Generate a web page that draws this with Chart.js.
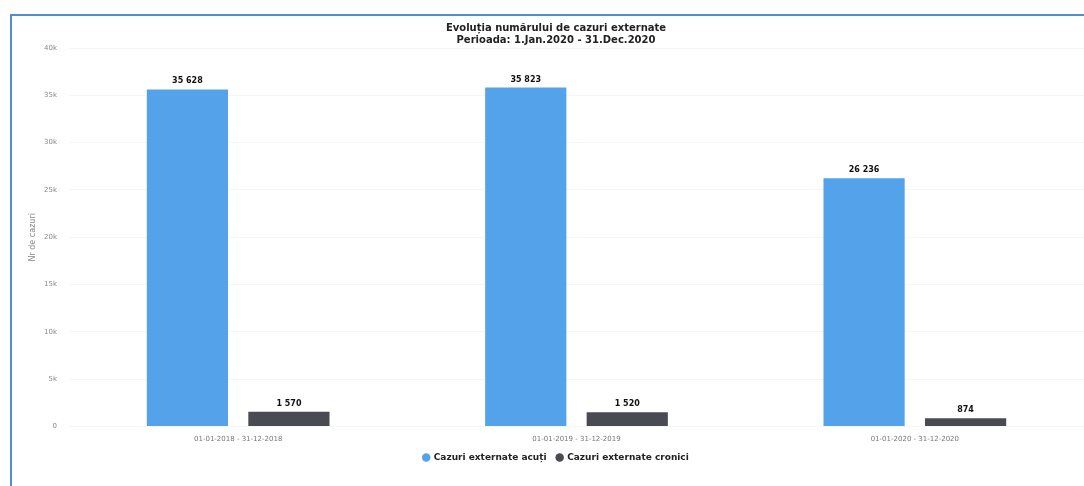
<!DOCTYPE html>
<html>
<head>
<meta charset="utf-8">
<script src="https://cdn.jsdelivr.net/npm/chart.js@4"></script>
<style>
  html,body{margin:0;padding:0;background:#fff;}
  #wrap{position:relative;width:1084px;height:486px;}
  #frame{position:absolute;left:10px;top:14px;right:0;bottom:0;border-top:2px solid #4f8fd0;border-left:2px solid #4f8fd0;pointer-events:none;}
  canvas{position:absolute;left:0;top:0;}
</style>
</head>
<body>
<div id="wrap">
<canvas id="c" width="1084" height="486"></canvas>
<div id="frame"></div>
</div>
<script>
const categories = ["01-01-2018 - 31-12-2018", "01-01-2019 - 31-12-2019", "01-01-2020 - 31-12-2020"];
const acuti = [35628, 35823, 26236];
const cronici = [1570, 1520, 874];
const seriesNames = ["Cazuri externate acuți", "Cazuri externate cronici"];
const titleLines = ["Evoluția numărului de cazuri externate", "Perioada: 1.Jan.2020 - 31.Dec.2020"];
const yTitle = "Nr de cazuri";

function fmt(v){ return String(v).replace(/\B(?=(\d{3})+(?!\d))/g, " "); }

const labelPlugin = {
  id: 'barLabels',
  afterDatasetsDraw(chart){
    const ctx = chart.ctx;
    ctx.save();
    ctx.font = 'bold 8px "DejaVu Sans", sans-serif';
    ctx.fillStyle = '#111';
    ctx.textAlign = 'center';
    ctx.textBaseline = 'bottom';
    chart.data.datasets.forEach((ds, i) => {
      const meta = chart.getDatasetMeta(i);
      meta.data.forEach((el, j) => {
        ctx.fillText(fmt(ds.data[j]), el.x, el.y - 4);
      });
    });
    ctx.restore();
  }
};

new Chart(document.getElementById('c'), {
  type: 'bar',
  data: {
    labels: categories,
    datasets: [
      { label: seriesNames[0], data: acuti, backgroundColor: '#54a3ea', borderWidth: 0 },
      { label: seriesNames[1], data: cronici, backgroundColor: '#4a4a52', borderWidth: 0 }
    ]
  },
  options: {
    responsive: false,
    animation: false,
    categoryPercentage: 0.6,
    barPercentage: 0.8,
    layout: { padding: { left: 28, right: 0, top: 22, bottom: 14 } },
    plugins: {
      title: {
        display: true,
        text: titleLines,
        color: '#222',
        font: { family: '"DejaVu Sans", sans-serif', size: 10, weight: 'bold', lineHeight: 1.2 },
        padding: { top: 0, bottom: 2 }
      },
      legend: {
        position: 'bottom',
        labels: {
          usePointStyle: true,
          pointStyle: 'circle',
          boxWidth: 6,
          boxHeight: 6,
          padding: 10,
          color: '#222',
          font: { family: '"DejaVu Sans", sans-serif', size: 9, weight: 'bold' }
        }
      },
      tooltip: { enabled: false }
    },
    scales: {
      x: {
        grid: { display: false },
        border: { display: false },
        ticks: { color: '#777', font: { family: '"DejaVu Sans", sans-serif', size: 7 }, padding: 0 }
      },
      y: {
        min: 0, max: 40000,
        afterFit(scale){ scale.width = 41; },
        grid: { color: 'rgba(0,0,0,0.035)', drawTicks: false },
        border: { display: false },
        ticks: {
          stepSize: 5000,
          color: '#888',
          padding: 12,
          font: { family: '"DejaVu Sans", sans-serif', size: 7 },
          callback: v => v === 0 ? '0' : (v/1000) + 'k'
        },
        title: { display: true, text: yTitle, color: '#888', font: { family: '"DejaVu Sans", sans-serif', size: 8 }, padding: 0 }
      }
    }
  },
  plugins: [labelPlugin]
});
</script>
</body>
</html>
